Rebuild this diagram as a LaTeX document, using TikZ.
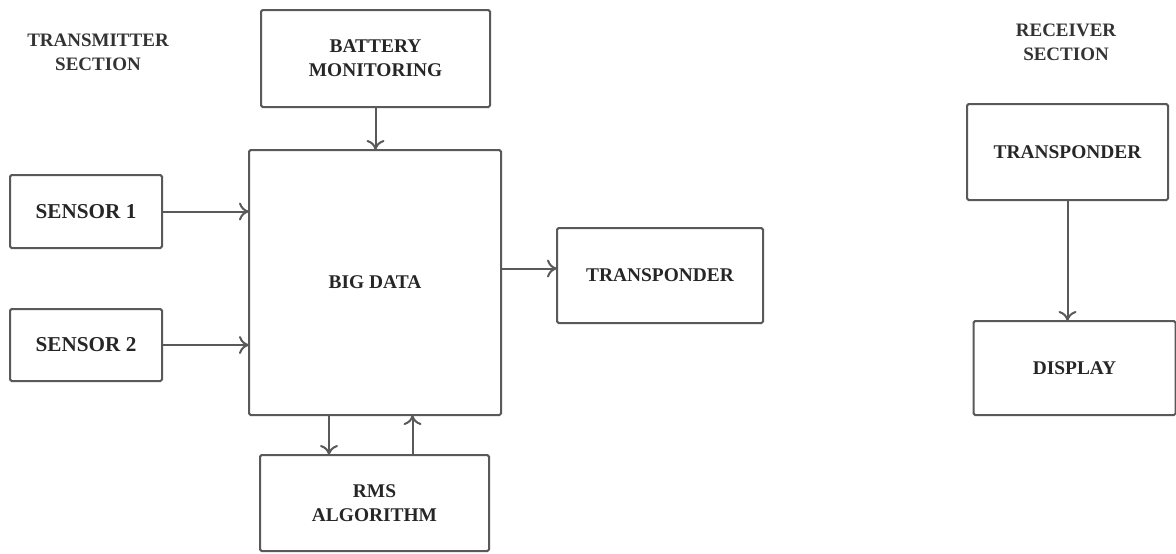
\documentclass[tikz,border=0pt]{standalone}
\usepackage{fontspec}
\setmainfont{Liberation Serif}[BoldFont={Liberation Serif Bold}]
\usetikzlibrary{arrows.meta}
\tikzset{
  blk/.style={draw=black!65, line width=1pt, rounded corners=0.8pt, inner sep=0pt, outer sep=0pt, align=center,
    text=black!85, font=\fontsize{9.7}{12}\selectfont\bfseries},
  sensorblk/.style={blk, font=\fontsize{10.6}{12}\selectfont\bfseries},
  heading/.style={align=center, text=black!80, font=\fontsize{9.5}{12}\selectfont\bfseries},
  conn/.style={draw=black!65, line width=1pt, -{To[length=5pt,width=9pt]}}
}
\begin{document}
\begin{tikzpicture}[x=0.5pt,y=-0.5pt]
\useasboundingbox (0,0) rectangle (1176,553);
\node[heading] (th) at (98,52) {TRANSMITTER\\SECTION};
\node[heading] (rh) at (1066,42) {RECEIVER\\SECTION};
\node[blk, minimum width=114.5pt, minimum height=48.5pt] (bat) at (375.5,58.5) {BATTERY\\MONITORING};
\node[blk, minimum width=126pt, minimum height=132.5pt] (bd) at (375,282.5) {BIG DATA};
\node[sensorblk, minimum width=76pt, minimum height=36.5pt] (s1) at (86,211.5) {SENSOR 1};
\node[sensorblk, minimum width=76pt, minimum height=36pt] (s2) at (86,345) {SENSOR 2};
\node[blk, minimum width=103pt, minimum height=47.5pt] (tx) at (660,275.5) {TRANSPONDER};
\node[blk, minimum width=114.5pt, minimum height=48pt] (rms) at (374.5,503) {RMS\\ALGORITHM};
\node[blk, minimum width=100.5pt, minimum height=48pt] (rtx) at (1067.5,152) {TRANSPONDER};
\node[blk, minimum width=101pt, minimum height=47pt] (disp) at (1074.5,368) {DISPLAY};
% connectors
\draw[conn] (bat.south) -- (bat.south |- bd.north);
\draw[conn] (s1.east) -- (s1.east -| bd.west);
\draw[conn] (s2.east) -- (s2.east -| bd.west);
\draw[conn] ([yshift=3.5pt]tx.west -| bd.east) -- ([yshift=3.5pt]tx.west);
\draw[conn] ([xshift=-23pt]bd.south) -- ([xshift=-23pt]bd.south |- rms.north);
\draw[conn] ([xshift=19pt]rms.north) -- ([xshift=19pt]rms.north |- bd.south);
\draw[conn] (rtx.south) -- (rtx.south |- disp.north);
\end{tikzpicture}
\end{document}
